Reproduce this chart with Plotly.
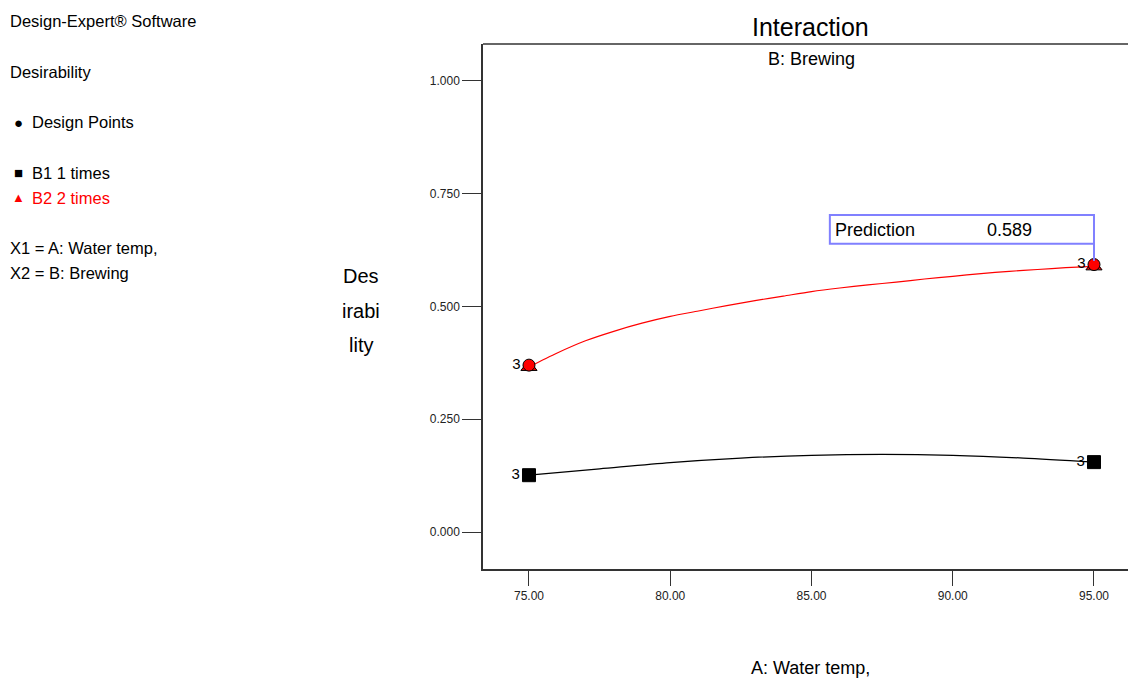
import plotly.graph_objects as go

# Data
water_temp_b1 = [75.0, 77.5, 80.0, 82.5, 85.0, 87.5, 90.0, 92.5, 95.0]
b1_curve = [0.126, 0.140, 0.154, 0.164, 0.170, 0.172, 0.170, 0.164, 0.155]
water_temp_b2 = [75.0, 76.0, 77.0, 78.0, 79.0, 80.0, 81.0, 82.0, 83.0, 84.0, 85.0,
                 86.0, 87.0, 88.0, 89.0, 90.0, 91.0, 92.0, 93.0, 94.0, 95.0]
b2_curve = [0.366, 0.397, 0.424, 0.445, 0.463, 0.478, 0.490, 0.502, 0.513, 0.523, 0.533,
            0.541, 0.548, 0.554, 0.561, 0.567, 0.573, 0.578, 0.582, 0.586, 0.589]

design_x = [75.0, 95.0]
b1_points = [0.126, 0.155]
b2_points = [0.366, 0.589]
point_counts = ["3", "3"]

x_ticks = [75, 80, 85, 90, 95]
y_ticks = [0.0, 0.25, 0.5, 0.75, 1.0]
pred_x, pred_y = 95.0, 0.589

FONT = "Liberation Sans, Arial, sans-serif"

W, H = 1128, 680
ML, MR, MT, MB = 483, 0, 44, 111
PW, PH = W - ML - MR, H - MT - MB

fig = go.Figure()

fig.add_trace(go.Scatter(x=water_temp_b1, y=b1_curve, mode="lines", line=dict(color="black", width=1.2, shape="spline", smoothing=0.8), showlegend=False, hoverinfo="skip"))
fig.add_trace(go.Scatter(x=water_temp_b2, y=b2_curve, mode="lines", line=dict(color="red", width=1.2, shape="spline", smoothing=0.8), showlegend=False, hoverinfo="skip"))

# B1 design points
fig.add_trace(go.Scatter(x=design_x, y=b1_points, mode="markers+text", text=point_counts, textposition="middle left",
                         textfont=dict(family=FONT, size=15, color="black"),
                         marker=dict(symbol="square", size=13, color="black", line=dict(color="black", width=1)), showlegend=False))
# B2 design points: triangle with circle on top
fig.add_trace(go.Scatter(x=design_x, y=b2_points, mode="markers", marker=dict(symbol="triangle-up", size=14, color="red", line=dict(color="black", width=1)), showlegend=False))
fig.add_trace(go.Scatter(x=design_x, y=[v + 0.004 for v in b2_points], mode="markers+text", text=point_counts, textposition="middle left",
                         textfont=dict(family=FONT, size=15, color="black"),
                         marker=dict(symbol="circle", size=12, color="red", line=dict(color="black", width=1)), showlegend=False))

fig.update_xaxes(range=[73.372, 96.204], tickvals=x_ticks, ticktext=[f"{v:.2f}" for v in x_ticks],
                 ticks="outside", ticklen=15, tickcolor="#333", showline=True, linecolor="#333", linewidth=1.5,
                 showgrid=False, zeroline=False, tickfont=dict(family=FONT, size=12, color="#222"))
fig.update_yaxes(range=[-0.082, 1.082], tickvals=y_ticks, ticktext=[f"{v:.3f}" for v in y_ticks],
                 ticks="outside", ticklen=19, tickcolor="#333", showline=True, linecolor="#333", linewidth=1.5,
                 showgrid=False, zeroline=False, tickfont=dict(family=FONT, size=12, color="#222"))

shapes = [
    dict(type="line", xref="paper", yref="paper", x0=0, x1=1.01, y0=1, y1=1, line=dict(color="#333", width=1.5)),
    dict(type="rect", xref="x", yref="y", x0=85.65, x1=pred_x, y0=0.639, y1=0.703, line=dict(color="#8080ff", width=2)),
    dict(type="line", xref="x", yref="y", x0=pred_x, x1=pred_x, y0=0.639, y1=pred_y + 0.012, line=dict(color="#8080ff", width=2)),
]

ann = []
def C(x, y, s, size=16, color="black", xanchor="left"):
    ann.append(dict(x=(x - ML) / PW, y=(H - MB - y) / PH, xref="paper", yref="paper", text=s, showarrow=False,
                    xanchor=xanchor, yanchor="middle", font=dict(family=FONT, size=size, color=color)))

C(8, 21, "Design-Expert® Software", size=16.5)
C(8, 72, "Desirability", size=16.5)
C(18, 122, "●", size=15, xanchor="center")
C(30, 122, "Design Points", size=16.5)
C(18, 173, "■", size=15, xanchor="center")
C(30, 173, "B1 1 times", size=16.5)
C(18, 197, "▲", size=13, color="red", xanchor="center")
C(30, 198, "B2 2 times", size=16.5, color="red")
C(8, 248, "X1 = A: Water temp,", size=16.5)
C(8, 273, "X2 = B: Brewing", size=16.5)

C(810, 27, "Interaction", size=25, xanchor="center")
C(811, 59, "B: Brewing", size=18, xanchor="center")
C(361, 276, "Des", size=20, xanchor="center")
C(361, 311, "irabi", size=20, xanchor="center")
C(361, 345, "lity", size=20, xanchor="center")
C(810, 668, "A: Water temp,", size=18, xanchor="center")
C(833, 230, "Prediction", size=18)
C(985, 230, "0.589", size=18)

fig.update_layout(width=W, height=H, margin=dict(l=ML, r=MR, t=MT, b=MB),
                  paper_bgcolor="white", plot_bgcolor="white", showlegend=False,
                  shapes=shapes, annotations=ann)

fig.write_html("out.html", config={"displayModeBar": False},
               post_script="document.body.style.margin='0px';document.body.style.overflow='hidden';")
